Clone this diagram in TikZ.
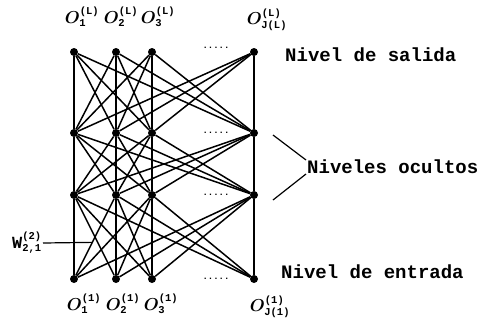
\documentclass[tikz,border=0pt]{standalone}
\usepackage{amsmath}
\usepackage{fontspec}
\setmonofont{Liberation Mono}
\usepackage{tikz}
\usetikzlibrary{positioning}
\DeclareMathSizes{17}{17}{10.5}{8}
\newcommand{\olab}[2]{$O^{\texttt{(#2)}}_{\texttt{#1}}$}

\begin{document}
\begin{tikzpicture}[
    x=1pt, y=-1pt,
    neuron/.style={circle, fill=black, draw=none, inner sep=0pt, minimum size=8pt},
    link/.style={line width=1.5pt},
    olabel/.style={font=\fontsize{17}{19}\selectfont\boldmath\ttfamily\bfseries, inner sep=1pt},
    level/.style={font=\fontsize{19}{21}\selectfont\ttfamily\bfseries, anchor=west, inner sep=1pt},
    dots/.style={font=\fontsize{9}{10}\selectfont\ttfamily\bfseries, inner sep=0pt}
]
    \useasboundingbox (0,0) rectangle (479,322);

    % input level
    \node[neuron] (in1) at (74,279) {};
    \node[neuron] (in2) at (116,279) {};
    \node[neuron] (in3) at (152,279) {};
    \node[neuron] (in4) at (254,279) {};
    % hidden levels
    \node[neuron] (hi1) at (74,195) {};
    \node[neuron] (hi2) at (116,195) {};
    \node[neuron] (hi3) at (152,195) {};
    \node[neuron] (hi4) at (254,195) {};
    \node[neuron] (hj1) at (74,133) {};
    \node[neuron] (hj2) at (116,133) {};
    \node[neuron] (hj3) at (152,133) {};
    \node[neuron] (hj4) at (254,133) {};
    % output level
    \node[neuron] (out1) at (74,52) {};
    \node[neuron] (out2) at (116,52) {};
    \node[neuron] (out3) at (152,52) {};
    \node[neuron] (out4) at (254,52) {};

    \node[dots] (in-dots) at (216,279) {.....};
    \node[dots] (hi-dots) at (216,195) {.....};
    \node[dots] (hj-dots) at (216,133) {.....};
    \node[dots] (out-dots) at (216,48) {.....};

    \foreach \lo/\up in {in/hi, hi/hj, hj/out}
        \foreach \a in {1,...,4}
            \foreach \b in {1,...,4}
                \draw[link] (\lo\a) -- (\up\b);

    % unit labels
    \node[olabel] (o-out1) at (82,17) {\olab{1}{L}};
    \node[olabel] (o-out2) at (121,17) {\olab{2}{L}};
    \node[olabel] (o-out3) at (158,17) {\olab{3}{L}};
    \node[olabel] (o-out4) at (267,20) {\olab{J(L)}{L}};
    \node[olabel] (o-in1) at (84,304) {\olab{1}{1}};
    \node[olabel] (o-in2) at (123,304) {\olab{2}{1}};
    \node[olabel] (o-in3) at (161,304) {\olab{3}{1}};
    \node[olabel] (o-in4) at (270,307) {\olab{J(1)}{1}};

    % level names
    \node[level] (salida) at (284,55) {Nivel de salida};
    \node[level] (ocultos) at (306,167) {Niveles ocultos};
    \node[level] (entrada) at (280,272) {Nivel de entrada};
    \coordinate (oc-a) at (273,135);
    \coordinate (oc-b) at (273,200);
    \draw[line width=1.2pt] (oc-a) -- ([yshift=7pt]ocultos.west);
    \draw[line width=1.2pt] (oc-b) -- ([yshift=-7pt]ocultos.west);

    % weight label
    \node[olabel] (weight) at (27,243) {\texttt{W}$^{\texttt{(2)}}_{\texttt{2,1}}$};
    \path (in1) -- coordinate[pos=0.43] (w21) (hi2);
    \draw[line width=1.2pt] (weight.east) -- (w21);
\end{tikzpicture}
\end{document}
